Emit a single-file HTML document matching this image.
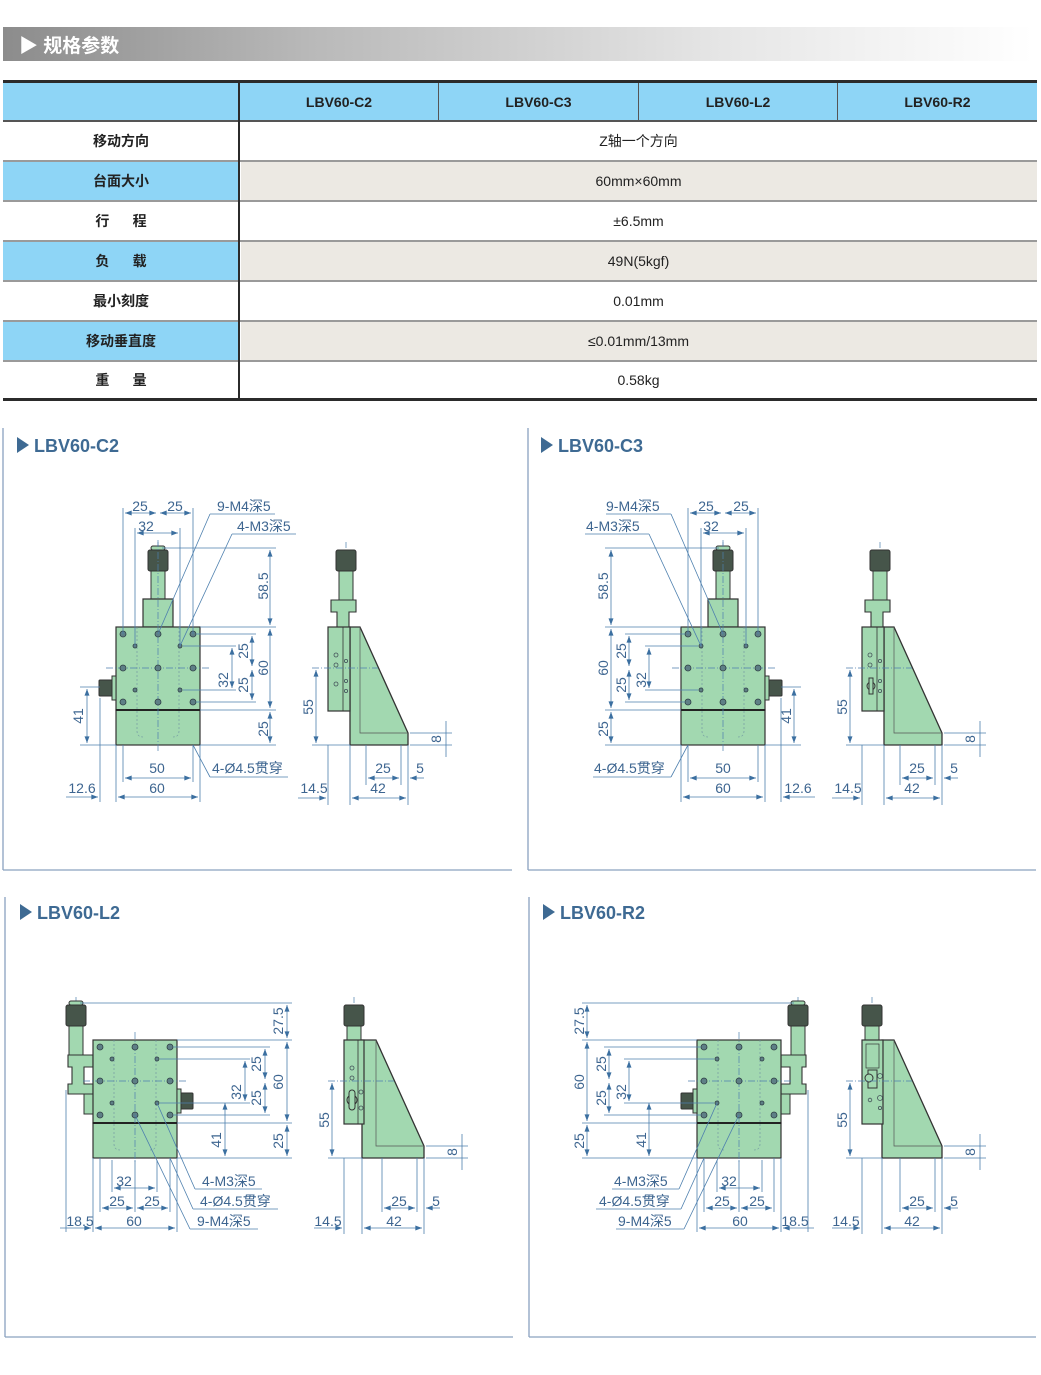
<!DOCTYPE html>
<html><head><meta charset="utf-8">
<style>
html,body{margin:0;padding:0;background:#fff;}
body{width:1041px;height:1375px;position:relative;overflow:hidden;font-family:"Liberation Sans","Noto Sans CJK SC",sans-serif;}
.abs{position:absolute;}
.hdr{left:3px;top:27px;width:1030px;height:34px;background:linear-gradient(90deg,#8c8c8c 0%,#b9b9b9 30%,#e6e6e6 70%,#fff 100%);}
.hdr span{position:absolute;left:16px;top:4px;color:#fff;font-weight:bold;font-size:19px;}
.cell{position:absolute;display:flex;align-items:center;justify-content:center;font-size:14px;color:#222;}
.lab{font-weight:bold;}
</style></head><body>
<div class="abs hdr"><span>▶ 规格参数</span></div>

<div class="abs" style="left:3px;top:80px;width:1034px;height:3px;background:#2b2b2b"></div>
<div class="abs" style="left:3px;top:83px;width:1034px;height:37px;background:#8ed5f6"></div>
<div class="abs" style="left:3px;top:120px;width:1034px;height:2px;background:#555"></div>
<div class="abs" style="left:3px;top:162px;width:236px;height:38px;background:#8ed5f6"></div>
<div class="abs" style="left:241px;top:162px;width:796px;height:38px;background:#ece9e3"></div>
<div class="abs" style="left:3px;top:242px;width:236px;height:38px;background:#8ed5f6"></div>
<div class="abs" style="left:241px;top:242px;width:796px;height:38px;background:#ece9e3"></div>
<div class="abs" style="left:3px;top:322px;width:236px;height:38px;background:#8ed5f6"></div>
<div class="abs" style="left:241px;top:322px;width:796px;height:38px;background:#ece9e3"></div>
<div class="abs" style="left:3px;top:160px;width:1034px;height:2px;background:#9a9a9a"></div>
<div class="abs" style="left:3px;top:200px;width:1034px;height:2px;background:#9a9a9a"></div>
<div class="abs" style="left:3px;top:240px;width:1034px;height:2px;background:#9a9a9a"></div>
<div class="abs" style="left:3px;top:280px;width:1034px;height:2px;background:#9a9a9a"></div>
<div class="abs" style="left:3px;top:320px;width:1034px;height:2px;background:#9a9a9a"></div>
<div class="abs" style="left:3px;top:360px;width:1034px;height:2px;background:#9a9a9a"></div>
<div class="abs" style="left:3px;top:398px;width:1034px;height:3px;background:#2b2b2b"></div>
<div class="abs" style="left:238px;top:83px;width:2px;height:316px;background:#2b2b2b"></div>
<div class="abs" style="left:438px;top:83px;width:1px;height:37px;background:#555"></div>
<div class="abs" style="left:638px;top:83px;width:1px;height:37px;background:#555"></div>
<div class="abs" style="left:837px;top:83px;width:1px;height:37px;background:#555"></div>

<div class="cell lab" style="left:240px;top:83px;width:198px;height:37px">LBV60-C2</div>
<div class="cell lab" style="left:439px;top:83px;width:199px;height:37px">LBV60-C3</div>
<div class="cell lab" style="left:639px;top:83px;width:198px;height:37px">LBV60-L2</div>
<div class="cell lab" style="left:838px;top:83px;width:199px;height:37px">LBV60-R2</div>

<div class="cell lab" style="left:3px;top:122px;width:236px;height:38px">移动方向</div>
<div class="cell lab" style="left:3px;top:162px;width:236px;height:38px">台面大小</div>
<div class="cell lab" style="left:3px;top:202px;width:236px;height:38px">行&nbsp;&nbsp;&nbsp;&nbsp;&nbsp;&nbsp;程</div>
<div class="cell lab" style="left:3px;top:242px;width:236px;height:38px">负&nbsp;&nbsp;&nbsp;&nbsp;&nbsp;&nbsp;载</div>
<div class="cell lab" style="left:3px;top:282px;width:236px;height:38px">最小刻度</div>
<div class="cell lab" style="left:3px;top:322px;width:236px;height:38px">移动垂直度</div>
<div class="cell lab" style="left:3px;top:362px;width:236px;height:36px">重&nbsp;&nbsp;&nbsp;&nbsp;&nbsp;&nbsp;量</div>

<div class="cell" style="left:240px;top:122px;width:797px;height:38px">Z轴一个方向</div>
<div class="cell" style="left:240px;top:162px;width:797px;height:38px">60mm×60mm</div>
<div class="cell" style="left:240px;top:202px;width:797px;height:38px">±6.5mm</div>
<div class="cell" style="left:240px;top:242px;width:797px;height:38px">49N(5kgf)</div>
<div class="cell" style="left:240px;top:282px;width:797px;height:38px">0.01mm</div>
<div class="cell" style="left:240px;top:322px;width:797px;height:38px">≤0.01mm/13mm</div>
<div class="cell" style="left:240px;top:362px;width:797px;height:36px">0.58kg</div>

<svg xmlns="http://www.w3.org/2000/svg" style="position:absolute;left:0;top:0" width="1041" height="1375" viewBox="0 0 1041 1375">
<defs>
<marker id="ar" viewBox="0 0 8 6" refX="8" refY="3" markerWidth="7" markerHeight="5" orient="auto" markerUnits="userSpaceOnUse"><path d="M0,0 L8,3 L0,6z" fill="#3b6fa0"/></marker>
<marker id="as" viewBox="0 0 8 6" refX="0" refY="3" markerWidth="7" markerHeight="5" orient="auto" markerUnits="userSpaceOnUse"><path d="M8,0 L0,3 L8,6z" fill="#3b6fa0"/></marker>
</defs>

<!-- ===== C2 FRONT ===== -->
<g>
 <g transform="translate(158,548)">
  <line x1="0" y1="-6" x2="0" y2="0" stroke="#4d7fae" stroke-width="0.7"/>
  <rect x="-7" y="-2" width="14" height="4" rx="2" fill="#a2d8b0" stroke="#333"/>
  <rect x="-10" y="2" width="20" height="21" rx="2" fill="#46554a" stroke="#333"/>
  <rect x="-7" y="23" width="14" height="29" fill="#a2d8b0" stroke="#333"/>
 </g>
 <path d="M143 599 H173 V627 H143 Z" fill="#a2d8b0" stroke="#333" stroke-width="1.2"/>
 <rect x="116" y="627" width="84" height="83" fill="#a2d8b0" stroke="#333" stroke-width="1.2"/>
 <rect x="116" y="710" width="84" height="35" fill="#a2d8b0" stroke="#333" stroke-width="1.2"/>
 <line x1="116" y1="710" x2="200" y2="710" stroke="#222" stroke-width="2"/>
 <line x1="158" y1="540" x2="158" y2="751" stroke="#4d7fae" stroke-width="0.7" stroke-dasharray="7 2 1 2"/>
 <line x1="106" y1="668" x2="210" y2="668" stroke="#4d7fae" stroke-width="0.7" stroke-dasharray="7 2 1 2"/>
 <path d="M137 627 V731 Q137 737 143 737 M179 627 V731 Q179 737 173 737" fill="none" stroke="#6c8fa0" stroke-width="0.6" stroke-dasharray="2 2"/>
 <g fill="#5e7f86" stroke="#2f3f45" stroke-width="0.8">
  <circle cx="123" cy="634" r="3"/><circle cx="158" cy="634" r="3"/><circle cx="193" cy="634" r="3"/>
  <circle cx="123" cy="668" r="3"/><circle cx="158" cy="668" r="3"/><circle cx="193" cy="668" r="3"/>
  <circle cx="123" cy="702" r="3"/><circle cx="158" cy="702" r="3"/><circle cx="193" cy="702" r="3"/>
  <circle cx="135" cy="646" r="2"/><circle cx="180" cy="646" r="2"/><circle cx="135" cy="690" r="2"/><circle cx="180" cy="690" r="2"/>
 </g>
 <rect x="99" y="680" width="15" height="16" rx="1" fill="#46554a" stroke="#333"/>
 <rect x="112" y="676" width="4" height="24" fill="#a2d8b0" stroke="#333"/>
 <g stroke="#4d7fae" stroke-width="0.8" fill="none">
  <line x1="123" y1="508" x2="123" y2="634"/><line x1="193" y1="508" x2="193" y2="634"/>
  <line x1="135" y1="528" x2="135" y2="646"/><line x1="180" y1="528" x2="180" y2="646"/>
  <line x1="125" y1="513" x2="156" y2="513" marker-start="url(#as)" marker-end="url(#ar)"/>
  <line x1="160" y1="513" x2="191" y2="513" marker-start="url(#as)" marker-end="url(#ar)"/>
  <line x1="137" y1="533" x2="178" y2="533" marker-start="url(#as)" marker-end="url(#ar)"/>
  <line x1="210" y1="514" x2="275" y2="514"/><line x1="210" y1="514" x2="158" y2="634"/>
  <line x1="232" y1="534" x2="296" y2="534"/><line x1="232" y1="534" x2="180" y2="646"/>
  <line x1="162" y1="548" x2="276" y2="548"/><line x1="200" y1="627" x2="276" y2="627"/><line x1="200" y1="710" x2="276" y2="710"/><line x1="200" y1="745" x2="276" y2="745"/>
  <line x1="270" y1="550" x2="270" y2="625" marker-start="url(#as)" marker-end="url(#ar)"/>
  <line x1="270" y1="629" x2="270" y2="708" marker-start="url(#as)" marker-end="url(#ar)"/>
  <line x1="270" y1="712" x2="270" y2="743" marker-start="url(#as)" marker-end="url(#ar)"/>
  <line x1="196" y1="634" x2="256" y2="634"/><line x1="196" y1="702" x2="256" y2="702"/>
  <line x1="183" y1="646" x2="236" y2="646"/><line x1="183" y1="690" x2="236" y2="690"/>
  <line x1="252" y1="636" x2="252" y2="666" marker-start="url(#as)" marker-end="url(#ar)"/>
  <line x1="252" y1="670" x2="252" y2="700" marker-start="url(#as)" marker-end="url(#ar)"/>
  <line x1="232" y1="648" x2="232" y2="688" marker-start="url(#as)" marker-end="url(#ar)"/>
  <line x1="80" y1="687" x2="100" y2="687"/><line x1="80" y1="745" x2="116" y2="745"/>
  <line x1="87" y1="689" x2="87" y2="743" marker-start="url(#as)" marker-end="url(#ar)"/>
  <line x1="116" y1="745" x2="116" y2="802"/><line x1="200" y1="745" x2="200" y2="802"/><line x1="100" y1="698" x2="100" y2="802"/>
  <line x1="123" y1="745" x2="123" y2="782"/><line x1="193" y1="745" x2="193" y2="782"/>
  <line x1="125" y1="778" x2="191" y2="778" marker-start="url(#as)" marker-end="url(#ar)"/>
  <line x1="118" y1="797" x2="198" y2="797" marker-start="url(#as)" marker-end="url(#ar)"/>
  <line x1="66" y1="797" x2="98" y2="797" marker-end="url(#ar)"/>
  <line x1="193" y1="745" x2="210" y2="777"/><line x1="210" y1="777" x2="288" y2="777"/>
 </g>
</g>

<!-- ===== C3 FRONT (mirror) ===== -->
<g transform="translate(881,0) scale(-1,1)">
 <g transform="translate(158,548)">
  <line x1="0" y1="-6" x2="0" y2="0" stroke="#4d7fae" stroke-width="0.7"/>
  <rect x="-7" y="-2" width="14" height="4" rx="2" fill="#a2d8b0" stroke="#333"/>
  <rect x="-10" y="2" width="20" height="21" rx="2" fill="#46554a" stroke="#333"/>
  <rect x="-7" y="23" width="14" height="29" fill="#a2d8b0" stroke="#333"/>
 </g>
 <path d="M143 599 H173 V627 H143 Z" fill="#a2d8b0" stroke="#333" stroke-width="1.2"/>
 <rect x="116" y="627" width="84" height="83" fill="#a2d8b0" stroke="#333" stroke-width="1.2"/>
 <rect x="116" y="710" width="84" height="35" fill="#a2d8b0" stroke="#333" stroke-width="1.2"/>
 <line x1="116" y1="710" x2="200" y2="710" stroke="#222" stroke-width="2"/>
 <line x1="158" y1="540" x2="158" y2="751" stroke="#4d7fae" stroke-width="0.7" stroke-dasharray="7 2 1 2"/>
 <line x1="106" y1="668" x2="210" y2="668" stroke="#4d7fae" stroke-width="0.7" stroke-dasharray="7 2 1 2"/>
 <path d="M137 627 V731 Q137 737 143 737 M179 627 V731 Q179 737 173 737" fill="none" stroke="#6c8fa0" stroke-width="0.6" stroke-dasharray="2 2"/>
 <g fill="#5e7f86" stroke="#2f3f45" stroke-width="0.8">
  <circle cx="123" cy="634" r="3"/><circle cx="158" cy="634" r="3"/><circle cx="193" cy="634" r="3"/>
  <circle cx="123" cy="668" r="3"/><circle cx="158" cy="668" r="3"/><circle cx="193" cy="668" r="3"/>
  <circle cx="123" cy="702" r="3"/><circle cx="158" cy="702" r="3"/><circle cx="193" cy="702" r="3"/>
  <circle cx="135" cy="646" r="2"/><circle cx="180" cy="646" r="2"/><circle cx="135" cy="690" r="2"/><circle cx="180" cy="690" r="2"/>
 </g>
 <rect x="99" y="680" width="15" height="16" rx="1" fill="#46554a" stroke="#333"/>
 <rect x="112" y="676" width="4" height="24" fill="#a2d8b0" stroke="#333"/>
 <g stroke="#4d7fae" stroke-width="0.8" fill="none">
  <line x1="123" y1="508" x2="123" y2="634"/><line x1="193" y1="508" x2="193" y2="634"/>
  <line x1="135" y1="528" x2="135" y2="646"/><line x1="180" y1="528" x2="180" y2="646"/>
  <line x1="125" y1="513" x2="156" y2="513" marker-start="url(#as)" marker-end="url(#ar)"/>
  <line x1="160" y1="513" x2="191" y2="513" marker-start="url(#as)" marker-end="url(#ar)"/>
  <line x1="137" y1="533" x2="178" y2="533" marker-start="url(#as)" marker-end="url(#ar)"/>
  <line x1="210" y1="514" x2="275" y2="514"/><line x1="210" y1="514" x2="158" y2="634"/>
  <line x1="232" y1="534" x2="296" y2="534"/><line x1="232" y1="534" x2="180" y2="646"/>
  <line x1="162" y1="548" x2="276" y2="548"/><line x1="200" y1="627" x2="276" y2="627"/><line x1="200" y1="710" x2="276" y2="710"/><line x1="200" y1="745" x2="276" y2="745"/>
  <line x1="270" y1="550" x2="270" y2="625" marker-start="url(#as)" marker-end="url(#ar)"/>
  <line x1="270" y1="629" x2="270" y2="708" marker-start="url(#as)" marker-end="url(#ar)"/>
  <line x1="270" y1="712" x2="270" y2="743" marker-start="url(#as)" marker-end="url(#ar)"/>
  <line x1="196" y1="634" x2="256" y2="634"/><line x1="196" y1="702" x2="256" y2="702"/>
  <line x1="183" y1="646" x2="236" y2="646"/><line x1="183" y1="690" x2="236" y2="690"/>
  <line x1="252" y1="636" x2="252" y2="666" marker-start="url(#as)" marker-end="url(#ar)"/>
  <line x1="252" y1="670" x2="252" y2="700" marker-start="url(#as)" marker-end="url(#ar)"/>
  <line x1="232" y1="648" x2="232" y2="688" marker-start="url(#as)" marker-end="url(#ar)"/>
  <line x1="80" y1="687" x2="100" y2="687"/><line x1="80" y1="745" x2="116" y2="745"/>
  <line x1="87" y1="689" x2="87" y2="743" marker-start="url(#as)" marker-end="url(#ar)"/>
  <line x1="116" y1="745" x2="116" y2="802"/><line x1="200" y1="745" x2="200" y2="802"/><line x1="100" y1="698" x2="100" y2="802"/>
  <line x1="123" y1="745" x2="123" y2="782"/><line x1="193" y1="745" x2="193" y2="782"/>
  <line x1="125" y1="778" x2="191" y2="778" marker-start="url(#as)" marker-end="url(#ar)"/>
  <line x1="118" y1="797" x2="198" y2="797" marker-start="url(#as)" marker-end="url(#ar)"/>
  <line x1="66" y1="797" x2="98" y2="797" marker-end="url(#ar)"/>
  <line x1="193" y1="745" x2="210" y2="777"/><line x1="210" y1="777" x2="288" y2="777"/>
 </g>
</g>

<!-- ===== L2 FRONT ===== -->
<g>
 <g transform="translate(76,1003)">
  <line x1="0" y1="-6" x2="0" y2="0" stroke="#4d7fae" stroke-width="0.7"/>
  <rect x="-7" y="-2" width="14" height="4" rx="2" fill="#a2d8b0" stroke="#333"/>
  <rect x="-10" y="2" width="20" height="21" rx="2" fill="#46554a" stroke="#333"/>
  <rect x="-7" y="23" width="14" height="29" fill="#a2d8b0" stroke="#333"/>
 </g>
 <path d="M68 1055 H93 V1067 H84 V1084 H93 V1094 H68 V1084 H72 V1067 H68 Z" fill="#a2d8b0" stroke="#333" stroke-width="1.1"/>
 <rect x="84" y="1094" width="9" height="20" fill="#a2d8b0" stroke="#333"/>
 <rect x="93" y="1040" width="84" height="83" fill="#a2d8b0" stroke="#333" stroke-width="1.2"/>
 <rect x="93" y="1123" width="84" height="35" fill="#a2d8b0" stroke="#333" stroke-width="1.2"/>
 <line x1="93" y1="1123" x2="177" y2="1123" stroke="#222" stroke-width="2"/>
 <line x1="135" y1="1032" x2="135" y2="1164" stroke="#4d7fae" stroke-width="0.7" stroke-dasharray="7 2 1 2"/>
 <line x1="83" y1="1081" x2="187" y2="1081" stroke="#4d7fae" stroke-width="0.7" stroke-dasharray="7 2 1 2"/>
 <path d="M114 1040 V1144 Q114 1150 120 1150 M156 1040 V1144 Q156 1150 150 1150" fill="none" stroke="#6c8fa0" stroke-width="0.6" stroke-dasharray="2 2"/>
 <g fill="#5e7f86" stroke="#2f3f45" stroke-width="0.8">
  <circle cx="100" cy="1047" r="3"/><circle cx="135" cy="1047" r="3"/><circle cx="170" cy="1047" r="3"/>
  <circle cx="100" cy="1081" r="3"/><circle cx="135" cy="1081" r="3"/><circle cx="170" cy="1081" r="3"/>
  <circle cx="100" cy="1115" r="3"/><circle cx="135" cy="1115" r="3"/><circle cx="170" cy="1115" r="3"/>
  <circle cx="112" cy="1059" r="2"/><circle cx="157" cy="1059" r="2"/><circle cx="112" cy="1103" r="2"/><circle cx="157" cy="1103" r="2"/>
 </g>
 <rect x="180" y="1093" width="13" height="16" rx="1" fill="#46554a" stroke="#333"/>
 <rect x="177" y="1089" width="4" height="24" fill="#a2d8b0" stroke="#333"/>
 <g stroke="#4d7fae" stroke-width="0.8" fill="none">
  <line x1="80" y1="1003" x2="292" y2="1003"/><line x1="177" y1="1040" x2="292" y2="1040"/><line x1="177" y1="1123" x2="292" y2="1123"/><line x1="177" y1="1158" x2="292" y2="1158"/>
  <line x1="287" y1="1005" x2="287" y2="1038" marker-start="url(#as)" marker-end="url(#ar)"/>
  <line x1="287" y1="1042" x2="287" y2="1121" marker-start="url(#as)" marker-end="url(#ar)"/>
  <line x1="287" y1="1125" x2="287" y2="1156" marker-start="url(#as)" marker-end="url(#ar)"/>
  <line x1="173" y1="1047" x2="270" y2="1047"/><line x1="173" y1="1115" x2="270" y2="1115"/>
  <line x1="160" y1="1059" x2="250" y2="1059"/><line x1="160" y1="1103" x2="250" y2="1103"/>
  <line x1="265" y1="1049" x2="265" y2="1079" marker-start="url(#as)" marker-end="url(#ar)"/>
  <line x1="265" y1="1083" x2="265" y2="1113" marker-start="url(#as)" marker-end="url(#ar)"/>
  <line x1="245" y1="1061" x2="245" y2="1101" marker-start="url(#as)" marker-end="url(#ar)"/>
  <line x1="225" y1="1103" x2="225" y2="1156" marker-start="url(#as)" marker-end="url(#ar)"/>
  <line x1="93" y1="1158" x2="93" y2="1232"/><line x1="177" y1="1158" x2="177" y2="1232"/><line x1="66" y1="1090" x2="66" y2="1232"/>
  <line x1="100" y1="1158" x2="100" y2="1212"/><line x1="170" y1="1158" x2="170" y2="1212"/>
  <line x1="112" y1="1160" x2="112" y2="1192"/><line x1="157" y1="1160" x2="157" y2="1192"/><line x1="135" y1="1160" x2="135" y2="1212"/>
  <line x1="114" y1="1188" x2="155" y2="1188" marker-start="url(#as)" marker-end="url(#ar)"/>
  <line x1="102" y1="1208" x2="133" y2="1208" marker-start="url(#as)" marker-end="url(#ar)"/>
  <line x1="137" y1="1208" x2="168" y2="1208" marker-start="url(#as)" marker-end="url(#ar)"/>
  <line x1="95" y1="1228" x2="175" y2="1228" marker-start="url(#as)" marker-end="url(#ar)"/>
  <line x1="60" y1="1228" x2="91" y2="1228" marker-end="url(#ar)"/>
  <line x1="157" y1="1103" x2="195" y2="1189"/><line x1="195" y1="1189" x2="262" y2="1189"/>
  <line x1="170" y1="1158" x2="193" y2="1209"/><line x1="193" y1="1209" x2="278" y2="1209"/>
  <line x1="135" y1="1115" x2="190" y2="1229"/><line x1="190" y1="1229" x2="258" y2="1229"/>
 </g>
</g>

<!-- ===== R2 FRONT (mirror) ===== -->
<g transform="translate(874,0) scale(-1,1)">
 <g transform="translate(76,1003)">
  <line x1="0" y1="-6" x2="0" y2="0" stroke="#4d7fae" stroke-width="0.7"/>
  <rect x="-7" y="-2" width="14" height="4" rx="2" fill="#a2d8b0" stroke="#333"/>
  <rect x="-10" y="2" width="20" height="21" rx="2" fill="#46554a" stroke="#333"/>
  <rect x="-7" y="23" width="14" height="29" fill="#a2d8b0" stroke="#333"/>
 </g>
 <path d="M68 1055 H93 V1067 H84 V1084 H93 V1094 H68 V1084 H72 V1067 H68 Z" fill="#a2d8b0" stroke="#333" stroke-width="1.1"/>
 <rect x="84" y="1094" width="9" height="20" fill="#a2d8b0" stroke="#333"/>
 <rect x="93" y="1040" width="84" height="83" fill="#a2d8b0" stroke="#333" stroke-width="1.2"/>
 <rect x="93" y="1123" width="84" height="35" fill="#a2d8b0" stroke="#333" stroke-width="1.2"/>
 <line x1="93" y1="1123" x2="177" y2="1123" stroke="#222" stroke-width="2"/>
 <line x1="135" y1="1032" x2="135" y2="1164" stroke="#4d7fae" stroke-width="0.7" stroke-dasharray="7 2 1 2"/>
 <line x1="83" y1="1081" x2="187" y2="1081" stroke="#4d7fae" stroke-width="0.7" stroke-dasharray="7 2 1 2"/>
 <path d="M114 1040 V1144 Q114 1150 120 1150 M156 1040 V1144 Q156 1150 150 1150" fill="none" stroke="#6c8fa0" stroke-width="0.6" stroke-dasharray="2 2"/>
 <g fill="#5e7f86" stroke="#2f3f45" stroke-width="0.8">
  <circle cx="100" cy="1047" r="3"/><circle cx="135" cy="1047" r="3"/><circle cx="170" cy="1047" r="3"/>
  <circle cx="100" cy="1081" r="3"/><circle cx="135" cy="1081" r="3"/><circle cx="170" cy="1081" r="3"/>
  <circle cx="100" cy="1115" r="3"/><circle cx="135" cy="1115" r="3"/><circle cx="170" cy="1115" r="3"/>
  <circle cx="112" cy="1059" r="2"/><circle cx="157" cy="1059" r="2"/><circle cx="112" cy="1103" r="2"/><circle cx="157" cy="1103" r="2"/>
 </g>
 <rect x="180" y="1093" width="13" height="16" rx="1" fill="#46554a" stroke="#333"/>
 <rect x="177" y="1089" width="4" height="24" fill="#a2d8b0" stroke="#333"/>
 <g stroke="#4d7fae" stroke-width="0.8" fill="none">
  <line x1="80" y1="1003" x2="292" y2="1003"/><line x1="177" y1="1040" x2="292" y2="1040"/><line x1="177" y1="1123" x2="292" y2="1123"/><line x1="177" y1="1158" x2="292" y2="1158"/>
  <line x1="287" y1="1005" x2="287" y2="1038" marker-start="url(#as)" marker-end="url(#ar)"/>
  <line x1="287" y1="1042" x2="287" y2="1121" marker-start="url(#as)" marker-end="url(#ar)"/>
  <line x1="287" y1="1125" x2="287" y2="1156" marker-start="url(#as)" marker-end="url(#ar)"/>
  <line x1="173" y1="1047" x2="270" y2="1047"/><line x1="173" y1="1115" x2="270" y2="1115"/>
  <line x1="160" y1="1059" x2="250" y2="1059"/><line x1="160" y1="1103" x2="250" y2="1103"/>
  <line x1="265" y1="1049" x2="265" y2="1079" marker-start="url(#as)" marker-end="url(#ar)"/>
  <line x1="265" y1="1083" x2="265" y2="1113" marker-start="url(#as)" marker-end="url(#ar)"/>
  <line x1="245" y1="1061" x2="245" y2="1101" marker-start="url(#as)" marker-end="url(#ar)"/>
  <line x1="225" y1="1103" x2="225" y2="1156" marker-start="url(#as)" marker-end="url(#ar)"/>
  <line x1="93" y1="1158" x2="93" y2="1232"/><line x1="177" y1="1158" x2="177" y2="1232"/><line x1="66" y1="1090" x2="66" y2="1232"/>
  <line x1="100" y1="1158" x2="100" y2="1212"/><line x1="170" y1="1158" x2="170" y2="1212"/>
  <line x1="112" y1="1160" x2="112" y2="1192"/><line x1="157" y1="1160" x2="157" y2="1192"/><line x1="135" y1="1160" x2="135" y2="1212"/>
  <line x1="114" y1="1188" x2="155" y2="1188" marker-start="url(#as)" marker-end="url(#ar)"/>
  <line x1="102" y1="1208" x2="133" y2="1208" marker-start="url(#as)" marker-end="url(#ar)"/>
  <line x1="137" y1="1208" x2="168" y2="1208" marker-start="url(#as)" marker-end="url(#ar)"/>
  <line x1="95" y1="1228" x2="175" y2="1228" marker-start="url(#as)" marker-end="url(#ar)"/>
  <line x1="60" y1="1228" x2="91" y2="1228" marker-end="url(#ar)"/>
  <line x1="157" y1="1103" x2="195" y2="1189"/><line x1="195" y1="1189" x2="262" y2="1189"/>
  <line x1="170" y1="1158" x2="193" y2="1209"/><line x1="193" y1="1209" x2="278" y2="1209"/>
  <line x1="135" y1="1115" x2="190" y2="1229"/><line x1="190" y1="1229" x2="258" y2="1229"/>
 </g>
</g>

<!-- ===== SIDE VIEWS ===== -->
<g transform="translate(328,627)">
 <g transform="translate(18,-79)">
  <line x1="0" y1="-6" x2="0" y2="0" stroke="#4d7fae" stroke-width="0.7"/>
  <rect x="-10" y="2" width="20" height="21" rx="2" fill="#46554a" stroke="#333"/>
  <rect x="-7" y="23" width="14" height="29" fill="#a2d8b0" stroke="#333"/>
 </g>
 <path d="M3 -27 H28 V-15 H21 V0 H9 V-15 H3 Z" fill="#a2d8b0" stroke="#333" stroke-width="1.1"/>
 <path d="M22 0 H32 L80 106 V118 H22 Z" fill="#a2d8b0" stroke="#333" stroke-width="1.3"/>
 <path d="M32 0 V106 H80" fill="none" stroke="#555" stroke-width="0.7"/>
 <rect x="0" y="0" width="22" height="84" fill="#a2d8b0" stroke="#333" stroke-width="1.2"/>
 <line x1="15" y1="0" x2="15" y2="84" stroke="#333" stroke-width="0.8"/>
 <g fill="none" stroke="#44535a" stroke-width="0.8"><circle cx="8" cy="28" r="2"/><circle cx="8" cy="38" r="2"/><circle cx="8" cy="57" r="2"/><circle cx="18" cy="34" r="1.6"/><circle cx="18" cy="54" r="1.6"/><circle cx="18" cy="64" r="1.6"/></g>
 <g stroke="#4d7fae" stroke-width="0.8" fill="none">
  <line x1="-16" y1="41" x2="50" y2="41" stroke-dasharray="7 2 1 2"/>
  <line x1="-12" y1="43" x2="-12" y2="116" marker-start="url(#as)" marker-end="url(#ar)"/>
  <line x1="-16" y1="118" x2="22" y2="118"/>
  <line x1="82" y1="106" x2="124" y2="106"/><line x1="82" y1="118" x2="124" y2="118"/>
  <line x1="118" y1="94" x2="118" y2="130"/>
  <line x1="0" y1="118" x2="0" y2="178"/><line x1="22" y1="118" x2="22" y2="178"/><line x1="38" y1="118" x2="38" y2="158"/><line x1="73" y1="118" x2="73" y2="158"/><line x1="80" y1="118" x2="80" y2="178"/>
  <line x1="40" y1="151" x2="71" y2="151" marker-start="url(#as)" marker-end="url(#ar)"/>
  <line x1="96" y1="151" x2="82" y2="151" marker-end="url(#ar)"/>
  <line x1="24" y1="171" x2="78" y2="171" marker-start="url(#as)" marker-end="url(#ar)"/>
  <line x1="-30" y1="171" x2="-2" y2="171" marker-end="url(#ar)"/>
 </g>
 <g fill="#3d6590" font-size="14" font-family="Liberation Sans, sans-serif" text-anchor="middle">
  <text transform="translate(-15,80) rotate(-90)">55</text>
  <text transform="translate(113,112) rotate(-90)">8</text>
  <text x="55" y="146">25</text><text x="92" y="146">5</text><text x="50" y="166">42</text><text x="-14" y="166">14.5</text>
 </g>
</g>

<g transform="translate(862,627)">
 <g transform="translate(18,-79)">
  <line x1="0" y1="-6" x2="0" y2="0" stroke="#4d7fae" stroke-width="0.7"/>
  <rect x="-10" y="2" width="20" height="21" rx="2" fill="#46554a" stroke="#333"/>
  <rect x="-7" y="23" width="14" height="29" fill="#a2d8b0" stroke="#333"/>
 </g>
 <path d="M3 -27 H28 V-15 H21 V0 H9 V-15 H3 Z" fill="#a2d8b0" stroke="#333" stroke-width="1.1"/>
 <path d="M22 0 H32 L80 106 V118 H22 Z" fill="#a2d8b0" stroke="#333" stroke-width="1.3"/>
 <path d="M32 0 V106 H80" fill="none" stroke="#555" stroke-width="0.7"/>
 <rect x="0" y="0" width="22" height="84" fill="#a2d8b0" stroke="#333" stroke-width="1.2"/>
 <line x1="15" y1="0" x2="15" y2="84" stroke="#333" stroke-width="0.8"/>
 <circle cx="9" cy="59" r="4" fill="#a2d8b0" stroke="#333"/><rect x="7" y="51" width="4" height="16" fill="#a2d8b0" stroke="#333"/>
 <g fill="none" stroke="#44535a" stroke-width="0.8"><circle cx="8" cy="28" r="2"/><circle cx="8" cy="38" r="2"/><circle cx="18" cy="34" r="1.6"/><circle cx="18" cy="54" r="1.6"/><circle cx="18" cy="64" r="1.6"/></g>
 <g stroke="#4d7fae" stroke-width="0.8" fill="none">
  <line x1="-16" y1="41" x2="50" y2="41" stroke-dasharray="7 2 1 2"/>
  <line x1="-12" y1="43" x2="-12" y2="116" marker-start="url(#as)" marker-end="url(#ar)"/>
  <line x1="-16" y1="118" x2="22" y2="118"/>
  <line x1="82" y1="106" x2="124" y2="106"/><line x1="82" y1="118" x2="124" y2="118"/>
  <line x1="118" y1="94" x2="118" y2="130"/>
  <line x1="0" y1="118" x2="0" y2="178"/><line x1="22" y1="118" x2="22" y2="178"/><line x1="38" y1="118" x2="38" y2="158"/><line x1="73" y1="118" x2="73" y2="158"/><line x1="80" y1="118" x2="80" y2="178"/>
  <line x1="40" y1="151" x2="71" y2="151" marker-start="url(#as)" marker-end="url(#ar)"/>
  <line x1="96" y1="151" x2="82" y2="151" marker-end="url(#ar)"/>
  <line x1="24" y1="171" x2="78" y2="171" marker-start="url(#as)" marker-end="url(#ar)"/>
  <line x1="-30" y1="171" x2="-2" y2="171" marker-end="url(#ar)"/>
 </g>
 <g fill="#3d6590" font-size="14" font-family="Liberation Sans, sans-serif" text-anchor="middle">
  <text transform="translate(-15,80) rotate(-90)">55</text>
  <text transform="translate(113,112) rotate(-90)">8</text>
  <text x="55" y="146">25</text><text x="92" y="146">5</text><text x="50" y="166">42</text><text x="-14" y="166">14.5</text>
 </g>
</g>

<g transform="translate(344,1040)">
 <g transform="translate(10,-37)">
  <line x1="0" y1="-6" x2="0" y2="0" stroke="#4d7fae" stroke-width="0.7"/>
  <rect x="-10" y="2" width="20" height="21" rx="2" fill="#46554a" stroke="#333"/>
  <rect x="-7" y="23" width="14" height="14" fill="#a2d8b0" stroke="#333"/>
 </g>
 <path d="M18 0 H32 L80 106 V118 H18 Z" fill="#a2d8b0" stroke="#333" stroke-width="1.3"/>
 <path d="M32 0 V106 H80" fill="none" stroke="#555" stroke-width="0.7"/>
 <rect x="0" y="0" width="20" height="84" fill="#a2d8b0" stroke="#333" stroke-width="1.2"/>
 <line x1="14" y1="0" x2="14" y2="84" stroke="#333" stroke-width="0.8"/>
 <circle cx="8" cy="60" r="5" fill="#a2d8b0" stroke="#333"/><rect x="5" y="50" width="6" height="20" rx="3" fill="#a2d8b0" stroke="#333"/>
 <g fill="none" stroke="#44535a" stroke-width="0.8"><circle cx="8" cy="28" r="2"/><circle cx="8" cy="38" r="2"/><circle cx="17" cy="52" r="2"/><circle cx="17" cy="68" r="2"/></g>
 <g stroke="#4d7fae" stroke-width="0.8" fill="none">
  <line x1="-16" y1="41" x2="50" y2="41" stroke-dasharray="7 2 1 2"/>
  <line x1="-12" y1="43" x2="-12" y2="116" marker-start="url(#as)" marker-end="url(#ar)"/>
  <line x1="-16" y1="118" x2="18" y2="118"/>
  <line x1="82" y1="106" x2="124" y2="106"/><line x1="82" y1="118" x2="124" y2="118"/>
  <line x1="118" y1="94" x2="118" y2="130"/>
  <line x1="0" y1="118" x2="0" y2="194"/><line x1="18" y1="118" x2="18" y2="194"/><line x1="38" y1="118" x2="38" y2="172"/><line x1="73" y1="118" x2="73" y2="172"/><line x1="80" y1="118" x2="80" y2="194"/>
  <line x1="40" y1="168" x2="71" y2="168" marker-start="url(#as)" marker-end="url(#ar)"/>
  <line x1="96" y1="168" x2="82" y2="168" marker-end="url(#ar)"/>
  <line x1="20" y1="188" x2="78" y2="188" marker-start="url(#as)" marker-end="url(#ar)"/>
  <line x1="-30" y1="188" x2="-2" y2="188" marker-end="url(#ar)"/>
 </g>
 <g fill="#3d6590" font-size="14" font-family="Liberation Sans, sans-serif" text-anchor="middle">
  <text transform="translate(-15,80) rotate(-90)">55</text>
  <text transform="translate(113,112) rotate(-90)">8</text>
  <text x="55" y="166">25</text><text x="92" y="166">5</text><text x="50" y="186">42</text><text x="-16" y="186">14.5</text>
 </g>
</g>

<g transform="translate(862,1040)">
 <g transform="translate(10,-37)">
  <line x1="0" y1="-6" x2="0" y2="0" stroke="#4d7fae" stroke-width="0.7"/>
  <rect x="-10" y="2" width="20" height="21" rx="2" fill="#46554a" stroke="#333"/>
  <rect x="-7" y="23" width="14" height="14" fill="#a2d8b0" stroke="#333"/>
 </g>
 <path d="M20 0 H32 L80 106 V118 H20 Z" fill="#a2d8b0" stroke="#333" stroke-width="1.3"/>
 <path d="M32 0 V106 H80" fill="none" stroke="#555" stroke-width="0.7"/>
 <rect x="0" y="0" width="21" height="84" fill="#a2d8b0" stroke="#333" stroke-width="1.2"/>
 <rect x="4" y="4" width="13" height="24" fill="none" stroke="#333" stroke-width="0.7"/>
 <rect x="6" y="30" width="9" height="18" fill="#a2d8b0" stroke="#333"/><circle cx="7" cy="38" r="4" fill="#a2d8b0" stroke="#333"/>
 <g fill="none" stroke="#44535a" stroke-width="0.8"><circle cx="18" cy="36" r="2.5"/><circle cx="18" cy="58" r="2.5"/><circle cx="8" cy="60" r="1.8"/><circle cx="18" cy="68" r="1.6"/></g>
 <g stroke="#4d7fae" stroke-width="0.8" fill="none">
  <line x1="-16" y1="41" x2="50" y2="41" stroke-dasharray="7 2 1 2"/>
  <line x1="-12" y1="43" x2="-12" y2="116" marker-start="url(#as)" marker-end="url(#ar)"/>
  <line x1="-16" y1="118" x2="20" y2="118"/>
  <line x1="82" y1="106" x2="124" y2="106"/><line x1="82" y1="118" x2="124" y2="118"/>
  <line x1="118" y1="94" x2="118" y2="130"/>
  <line x1="0" y1="118" x2="0" y2="194"/><line x1="20" y1="118" x2="20" y2="194"/><line x1="38" y1="118" x2="38" y2="172"/><line x1="73" y1="118" x2="73" y2="172"/><line x1="80" y1="118" x2="80" y2="194"/>
  <line x1="40" y1="168" x2="71" y2="168" marker-start="url(#as)" marker-end="url(#ar)"/>
  <line x1="96" y1="168" x2="82" y2="168" marker-end="url(#ar)"/>
  <line x1="22" y1="188" x2="78" y2="188" marker-start="url(#as)" marker-end="url(#ar)"/>
  <line x1="-30" y1="188" x2="-2" y2="188" marker-end="url(#ar)"/>
 </g>
 <g fill="#3d6590" font-size="14" font-family="Liberation Sans, sans-serif" text-anchor="middle">
  <text transform="translate(-15,80) rotate(-90)">55</text>
  <text transform="translate(113,112) rotate(-90)">8</text>
  <text x="55" y="166">25</text><text x="92" y="166">5</text><text x="50" y="186">42</text><text x="-16" y="186">14.5</text>
 </g>
</g>

<g stroke="#8aa2bf" stroke-width="1.3">
 <line x1="3" y1="428" x2="3" y2="870"/><line x1="3" y1="870" x2="512" y2="870"/>
 <line x1="528" y1="428" x2="528" y2="870"/><line x1="528" y1="870" x2="1036" y2="870"/>
 <line x1="5" y1="897" x2="5" y2="1337"/><line x1="5" y1="1337" x2="513" y2="1337"/>
 <line x1="529" y1="897" x2="529" y2="1337"/><line x1="529" y1="1337" x2="1036" y2="1337"/>
</g>
<g fill="#3e6a93" font-weight="bold" font-size="18" font-family="Liberation Sans, sans-serif">
 <path d="M17 437 L29 445 L17 453Z"/><text x="34" y="452">LBV60-C2</text>
 <path d="M541 437 L553 445 L541 453Z"/><text x="558" y="452">LBV60-C3</text>
 <path d="M20 904 L32 912 L20 920Z"/><text x="37" y="919">LBV60-L2</text>
 <path d="M543 904 L555 912 L543 920Z"/><text x="560" y="919">LBV60-R2</text>
</g>

<g fill="#3d6590" font-size="14" font-family="Liberation Sans, Noto Sans CJK SC, sans-serif">
 <text x="140" y="511" text-anchor="middle">25</text><text x="175" y="511" text-anchor="middle">25</text>
 <text x="146" y="531" text-anchor="middle">32</text>
 <text x="217" y="511">9-M4深5</text><text x="237" y="531">4-M3深5</text>
 <text transform="translate(268,586) rotate(-90)" text-anchor="middle">58.5</text>
 <text transform="translate(268,668) rotate(-90)" text-anchor="middle">60</text>
 <text transform="translate(268,729) rotate(-90)" text-anchor="middle">25</text>
 <text transform="translate(248,651) rotate(-90)" text-anchor="middle">25</text>
 <text transform="translate(248,685) rotate(-90)" text-anchor="middle">25</text>
 <text transform="translate(228,680) rotate(-90)" text-anchor="middle">32</text>
 <text transform="translate(83,716) rotate(-90)" text-anchor="middle">41</text>
 <text x="157" y="773" text-anchor="middle">50</text><text x="157" y="793" text-anchor="middle">60</text>
 <text x="82" y="793" text-anchor="middle">12.6</text><text x="212" y="773">4-Ø4.5贯穿</text>

 <text x="706" y="511" text-anchor="middle">25</text><text x="741" y="511" text-anchor="middle">25</text>
 <text x="711" y="531" text-anchor="middle">32</text>
 <text x="606" y="511">9-M4深5</text><text x="586" y="531">4-M3深5</text>
 <text transform="translate(608,586) rotate(-90)" text-anchor="middle">58.5</text>
 <text transform="translate(608,668) rotate(-90)" text-anchor="middle">60</text>
 <text transform="translate(608,729) rotate(-90)" text-anchor="middle">25</text>
 <text transform="translate(626,651) rotate(-90)" text-anchor="middle">25</text>
 <text transform="translate(626,685) rotate(-90)" text-anchor="middle">25</text>
 <text transform="translate(646,680) rotate(-90)" text-anchor="middle">32</text>
 <text transform="translate(791,716) rotate(-90)" text-anchor="middle">41</text>
 <text x="723" y="773" text-anchor="middle">50</text><text x="723" y="793" text-anchor="middle">60</text>
 <text x="798" y="793" text-anchor="middle">12.6</text><text x="594" y="773">4-Ø4.5贯穿</text>

 <text transform="translate(283,1021) rotate(-90)" text-anchor="middle">27.5</text>
 <text transform="translate(283,1082) rotate(-90)" text-anchor="middle">60</text>
 <text transform="translate(283,1141) rotate(-90)" text-anchor="middle">25</text>
 <text transform="translate(261,1064) rotate(-90)" text-anchor="middle">25</text>
 <text transform="translate(261,1098) rotate(-90)" text-anchor="middle">25</text>
 <text transform="translate(241,1092) rotate(-90)" text-anchor="middle">32</text>
 <text transform="translate(221,1140) rotate(-90)" text-anchor="middle">41</text>
 <text x="124" y="1186" text-anchor="middle">32</text>
 <text x="117" y="1206" text-anchor="middle">25</text><text x="152" y="1206" text-anchor="middle">25</text>
 <text x="134" y="1226" text-anchor="middle">60</text><text x="80" y="1226" text-anchor="middle">18.5</text>
 <text x="202" y="1186">4-M3深5</text><text x="200" y="1206">4-Ø4.5贯穿</text><text x="197" y="1226">9-M4深5</text>

 <text transform="translate(584,1021) rotate(-90)" text-anchor="middle">27.5</text>
 <text transform="translate(584,1082) rotate(-90)" text-anchor="middle">60</text>
 <text transform="translate(584,1141) rotate(-90)" text-anchor="middle">25</text>
 <text transform="translate(606,1064) rotate(-90)" text-anchor="middle">25</text>
 <text transform="translate(606,1098) rotate(-90)" text-anchor="middle">25</text>
 <text transform="translate(626,1092) rotate(-90)" text-anchor="middle">32</text>
 <text transform="translate(646,1140) rotate(-90)" text-anchor="middle">41</text>
 <text x="729" y="1186" text-anchor="middle">32</text>
 <text x="722" y="1206" text-anchor="middle">25</text><text x="757" y="1206" text-anchor="middle">25</text>
 <text x="740" y="1226" text-anchor="middle">60</text><text x="795" y="1226" text-anchor="middle">18.5</text>
 <text x="614" y="1186">4-M3深5</text><text x="599" y="1206">4-Ø4.5贯穿</text><text x="618" y="1226">9-M4深5</text>
</g>
</svg>
</body></html>
